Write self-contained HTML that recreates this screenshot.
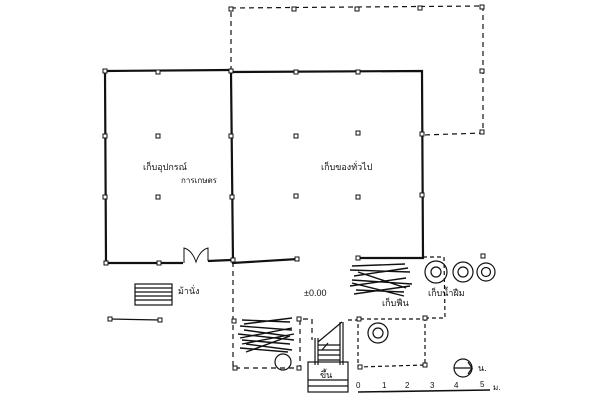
<!DOCTYPE html>
<html><head><meta charset="utf-8"><style>
html,body{margin:0;padding:0;background:#fff;width:600px;height:400px;overflow:hidden}
svg text{font-family:"Liberation Sans","Noto Sans CJK SC",sans-serif;fill:#111}
</style></head><body>
<svg width="600" height="400" viewBox="0 0 600 400" xmlns="http://www.w3.org/2000/svg">
<g fill="none" stroke="#111" stroke-width="1.2">
<!-- dashed top extension -->
<path d="M231 71 L231 8 L483 6 L483 133 L423 135" stroke-dasharray="5 4"/>
<!-- left building -->
<path d="M105 71 L230 70 M105 71 L106 263 L183 263 M208 261 L231 260" stroke-width="2.2"/>
<path d="M184 263 L184 248 Q192 250 196 262 Q200 250 208 248 L208 261" stroke-width="1"/>
<!-- right building -->
<path d="M231 72 L422 71 L423 258 L400 258 L358 258 M231 72 L233 263 L298 259" stroke-width="2.2"/>
<!-- dashed lower regions -->
<path d="M233 262 L233 368 L300 368 L300 319 L312 319 L312 340" stroke-dasharray="5 4"/>
<path d="M348 320 L358 320 L358 367 L425 365 L425 319 L358 319" stroke-dasharray="4 3"/>
<path d="M423 257 L444 257 L445 318 L425 318" stroke-dasharray="4 3"/>
<!-- bench -->
<rect x="135" y="284" width="37" height="21"/>
<path d="M135 288 H172 M135 292 H172 M135 296 H172 M135 300 H172"/>
<path d="M110 319 L160 320"/>
<!-- wood piles -->
<path d="M242 320 L290 322 M240 326 L292 330 M244 330 L288 336 M238 334 L294 340 M242 340 L290 344 M246 344 L292 350 M240 348 L288 352 M244 324 L292 318 M240 338 L292 328 M246 352 L290 336 M242 344 L294 334" stroke-width="1.4"/>
<circle cx="283" cy="362" r="8"/>
<path d="M352 266 L405 264 M350 270 L410 272 M354 276 L408 268 M352 280 L412 284 M350 286 L406 278 M356 290 L404 292 M354 294 L410 286 M352 283 L404 296 M358 272 L406 288" stroke-width="1.4"/>
<!-- stairs -->
<rect x="308" y="362" width="40" height="30"/>
<path d="M308 380 H348 M308 386 H348"/>
<path d="M315 338 V365 M318 338 V365 M340 322 V365 M343 322 V365 M318 342 L342 322 M318 345 H340 M318 350 H340 M318 355 H340 M318 360 H340 M322 350 L328 343"/>
<!-- circles -->
<circle cx="378" cy="333" r="10"/><circle cx="378" cy="333" r="5"/>
<circle cx="436" cy="272" r="11"/><circle cx="436" cy="272" r="5"/>
<circle cx="463" cy="272" r="10"/><circle cx="463" cy="272" r="5"/>
<circle cx="486" cy="272" r="9"/><circle cx="486" cy="272" r="4.5"/>
<!-- north -->
<circle cx="463" cy="368" r="9"/><path d="M454 368 H472 L468 362 M472 368 L468 374"/>
<!-- scale -->
<path d="M358 392 L490 390" stroke-width="1.6"/>
</g>
<g fill="#fff" stroke="#111" stroke-width="1">
<rect x="103" y="69" width="4" height="4"/><rect x="156" y="70" width="4" height="4"/><rect x="229" y="69" width="4" height="4"/>
<rect x="103" y="134" width="4" height="4"/><rect x="156" y="134" width="4" height="4"/><rect x="229" y="134" width="4" height="4"/>
<rect x="103" y="195" width="4" height="4"/><rect x="156" y="195" width="4" height="4"/><rect x="230" y="195" width="4" height="4"/>
<rect x="104" y="261" width="4" height="4"/><rect x="157" y="261" width="4" height="4"/><rect x="231" y="258" width="4" height="4"/>
<rect x="294" y="134" width="4" height="4"/><rect x="356" y="131" width="4" height="4"/>
<rect x="294" y="194" width="4" height="4"/><rect x="356" y="195" width="4" height="4"/>
<rect x="294" y="70" width="4" height="4"/><rect x="356" y="70" width="4" height="4"/><rect x="420" y="132" width="4" height="4"/><rect x="420" y="193" width="4" height="4"/>
<rect x="295" y="257" width="4" height="4"/><rect x="356" y="256" width="4" height="4"/>
<rect x="229" y="7" width="4" height="4"/><rect x="292" y="7" width="4" height="4"/><rect x="355" y="7" width="4" height="4"/><rect x="418" y="6" width="4" height="4"/><rect x="480" y="5" width="4" height="4"/><rect x="480" y="69" width="4" height="4"/><rect x="480" y="130" width="4" height="4"/>
<rect x="108" y="317" width="4" height="4"/><rect x="158" y="318" width="4" height="4"/>
<rect x="232" y="319" width="4" height="4"/><rect x="233" y="366" width="4" height="4"/><rect x="297" y="317" width="4" height="4"/><rect x="297" y="366" width="4" height="4"/>
<rect x="357" y="317" width="4" height="4"/><rect x="358" y="365" width="4" height="4"/><rect x="423" y="316" width="4" height="4"/><rect x="423" y="363" width="4" height="4"/>
<rect x="481" y="254" width="4" height="4"/>
</g>
<g font-size="9">
<text x="143" y="170">เก็บอุปกรณ์</text>
<text x="181" y="183" font-size="8">การเกษตร</text>
<text x="321" y="170">เก็บของทั่วไป</text>
<text x="178" y="294">ม้านั่ง</text>
<text x="304" y="296">±0.00</text>
<text x="382" y="306">เก็บฟืน</text>
<text x="428" y="296">เก็บน้ำฝืม</text>
<text x="320" y="378">ขึ้น</text>
<text x="478" y="371">น.</text>
<g font-size="8"><text x="356" y="388">0</text><text x="382" y="388">1</text><text x="405" y="388">2</text><text x="430" y="388">3</text><text x="454" y="388">4</text><text x="480" y="387">5</text><text x="493" y="390">ม.</text></g>
</g>
</svg>
</body></html>
